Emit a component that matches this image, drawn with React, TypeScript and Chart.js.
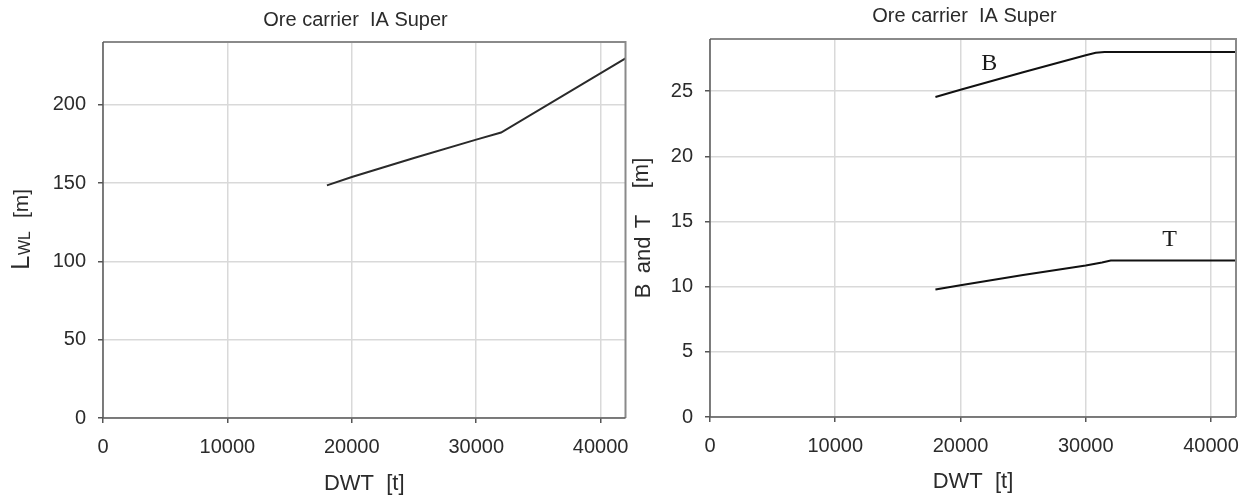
import React, { useEffect, useRef } from "react";
import { Chart, registerables } from "chart.js";

Chart.register(...registerables);

// ---- Data ----
const chartTitle = "Ore carrier  IA Super";
const xTitle = "DWT  [t]";

// Left chart: waterline length vs DWT
const dwtL = [18000, 20000, 25000, 30000, 32000, 42000];
const lwl = [148.5, 153.8, 166, 177.7, 182.2, 229.5];

// Right chart: breadth B and draught T vs DWT
const dwtB = [18000, 20000, 25000, 30000, 30800, 31500, 42000];
const breadth = [24.55, 25.1, 26.45, 27.75, 27.95, 28, 28];
const dwtT = [18000, 20000, 25000, 30000, 31300, 32000, 42000];
const draught = [9.78, 10.1, 10.9, 11.62, 11.85, 12, 12];

const curveLabels = ["B", "T"];
const curveLabelX = [22300, 36700];
const curveLabelY = [27.1, 13.6];

// Axis ranges and tick labels
const xMax = 42000;
const xTicks = [0, 10000, 20000, 30000, 40000];
const yMaxL = 240;
const yTicksL = [0, 50, 100, 150, 200];
const yMaxR = 29;
const yTicksR = [0, 5, 10, 15, 20, 25];

const SANS = '"Liberation Sans", Arial, Helvetica, sans-serif';
const SERIF = '"Liberation Serif", "Times New Roman", serif';
const TEXT = "#2b2b2b";
const GRID = "#d9d9d9";

type Piece = { text: string; size: number; bx: number; sy: number };

function drawRotated(ctx: CanvasRenderingContext2D, pieces: Piece[]) {
  for (const p of pieces) {
    ctx.save();
    ctx.translate(p.bx, p.sy);
    ctx.rotate(-Math.PI / 2);
    ctx.font = `${p.size}px ${SANS}`;
    ctx.fillStyle = TEXT;
    ctx.textAlign = "left";
    ctx.textBaseline = "alphabetic";
    ctx.fillText(p.text, 0, 0);
    ctx.restore();
  }
}

function makeDecor(opts: {
  titleX: number;
  titleY: number;
  yPieces: Piece[];
  labels?: boolean;
}) {
  return {
    id: "decor",
    afterDraw(chart: any) {
      const ctx: CanvasRenderingContext2D = chart.ctx;
      const a = chart.chartArea;
      ctx.save();
      // frame
      ctx.strokeStyle = "#8a8a8a";
      ctx.lineWidth = 2;
      ctx.beginPath();
      ctx.moveTo(a.left, a.top);
      ctx.lineTo(a.right, a.top);
      ctx.lineTo(a.right, a.bottom);
      ctx.stroke();
      ctx.strokeStyle = "#5a5a5a";
      ctx.lineWidth = 1.5;
      ctx.beginPath();
      ctx.moveTo(a.left, a.top);
      ctx.lineTo(a.left, a.bottom);
      ctx.lineTo(a.right, a.bottom);
      ctx.stroke();
      // title
      ctx.font = `20px ${SANS}`;
      ctx.fillStyle = TEXT;
      ctx.textAlign = "center";
      ctx.textBaseline = "middle";
      ctx.fillText(chartTitle, opts.titleX, opts.titleY);
      ctx.restore();
      drawRotated(ctx, opts.yPieces);
      if (opts.labels) {
        const xs = chart.scales.x;
        const ys = chart.scales.y;
        ctx.save();
        ctx.font = `24px ${SERIF}`;
        ctx.fillStyle = "#1a1a1a";
        ctx.textAlign = "center";
        ctx.textBaseline = "middle";
        curveLabels.forEach((t, i) => {
          ctx.fillText(t, xs.getPixelForValue(curveLabelX[i]), ys.getPixelForValue(curveLabelY[i]));
        });
        ctx.restore();
      }
    },
  };
}

function axisCommon(ticks: number[]) {
  return {
    afterBuildTicks: (s: any) => {
      s.ticks = ticks.map((v) => ({ value: v }));
    },
    border: { display: false },
    grid: {
      color: GRID,
      lineWidth: 1.5,
      drawTicks: true,
      tickLength: 5,
      tickColor: "#555",
      tickWidth: 1.5,
    },
  };
}

function buildConfig(p: {
  datasets: any[];
  yMax: number;
  yTicks: number[];
  top: number;
  right: number;
  yWidth: number;
  xHeight: number;
  xTitlePad: number;
  decor: any;
}) {
  return {
    type: "line",
    data: { datasets: p.datasets },
    options: {
      animation: false,
      responsive: false,
      maintainAspectRatio: false,
      layout: { padding: { top: p.top, right: p.right, left: 0, bottom: 0 } },
      plugins: { legend: { display: false }, tooltip: { enabled: false }, title: { display: false } },
      elements: { point: { radius: 0 }, line: { tension: 0 } },
      scales: {
        x: {
          type: "linear",
          min: 0,
          max: xMax,
          ...axisCommon(xTicks),
          afterFit: (s: any) => {
            s.height = p.xHeight;
            s.paddingRight = 0;
            s.paddingLeft = 0;
          },
          ticks: {
            autoSkip: false,
            maxRotation: 0,
            padding: 12,
            color: TEXT,
            font: { family: SANS, size: 20 },
            callback: (v: any) => String(v),
          },
          title: {
            display: true,
            text: xTitle,
            color: TEXT,
            font: { family: SANS, size: 22 },
            padding: { top: 0, bottom: p.xTitlePad },
          },
        },
        y: {
          type: "linear",
          min: 0,
          max: p.yMax,
          ...axisCommon(p.yTicks),
          afterFit: (s: any) => {
            s.width = p.yWidth;
            s.paddingTop = 0;
            s.paddingBottom = 0;
          },
          ticks: {
            autoSkip: false,
            padding: 12,
            color: TEXT,
            font: { family: SANS, size: 20 },
            callback: (v: any) => String(v),
          },
        },
      },
    },
    plugins: [p.decor],
  } as any;
}

function lineDs(xs: number[], ys: number[], color: string) {
  return {
    data: xs.map((x, i) => ({ x, y: ys[i] })),
    borderColor: color,
    borderWidth: 2,
    pointRadius: 0,
    fill: false,
    tension: 0,
  };
}

const LEFT_W = 660;
const RIGHT_X = 632;
const RIGHT_W = 660;
const H = 499;

export default function App() {
  const leftRef = useRef<HTMLCanvasElement>(null);
  const rightRef = useRef<HTMLCanvasElement>(null);

  useEffect(() => {
    const left = new Chart(
      leftRef.current as HTMLCanvasElement,
      buildConfig({
        datasets: [lineDs(dwtL, lwl, "#2a2a2a")],
        yMax: yMaxL,
        yTicks: yTicksL,
        top: 42,
        right: LEFT_W - 625.5,
        yWidth: 103,
        xHeight: H - 418,
        xTitlePad: 2,
        decor: makeDecor({
          titleX: 355.5,
          titleY: 20,
          yPieces: [
            { text: "L", size: 26, bx: 29, sy: 270 },
            { text: "WL", size: 16, bx: 30, sy: 255 },
            { text: "[m]", size: 21, bx: 28, sy: 218 },
          ],
        }),
      })
    );
    const right = new Chart(
      rightRef.current as HTMLCanvasElement,
      buildConfig({
        datasets: [lineDs(dwtB, breadth, "#111"), lineDs(dwtT, draught, "#111")],
        yMax: yMaxR,
        yTicks: yTicksR,
        top: 39,
        right: RIGHT_W - (1236 - RIGHT_X),
        yWidth: 710 - RIGHT_X,
        xHeight: H - 417,
        xTitlePad: 4,
        decor: makeDecor({
          titleX: 964.5 - RIGHT_X,
          titleY: 16.5,
          labels: true,
          yPieces: [
            { text: "B", size: 22, bx: 650 - RIGHT_X, sy: 298.3 },
            { text: "and", size: 22, bx: 650 - RIGHT_X, sy: 273.3 },
            { text: "T", size: 22, bx: 650 - RIGHT_X, sy: 228.3 },
            { text: "[m]", size: 22, bx: 648 - RIGHT_X, sy: 188.3 },
          ],
        }),
      })
    );
    return () => {
      left.destroy();
      right.destroy();
    };
  }, []);

  return (
    <div
      style={{
        position: "absolute",
        left: 0,
        top: 0,
        width: 1250,
        height: H,
        background: "#fff",
        overflow: "hidden",
      }}
    >
      <canvas
        ref={leftRef}
        width={LEFT_W}
        height={H}
        style={{ position: "absolute", left: 0, top: 0, width: LEFT_W, height: H }}
      />
      <canvas
        ref={rightRef}
        width={RIGHT_W}
        height={H}
        style={{ position: "absolute", left: RIGHT_X, top: 0, width: RIGHT_W, height: H }}
      />
    </div>
  );
}
